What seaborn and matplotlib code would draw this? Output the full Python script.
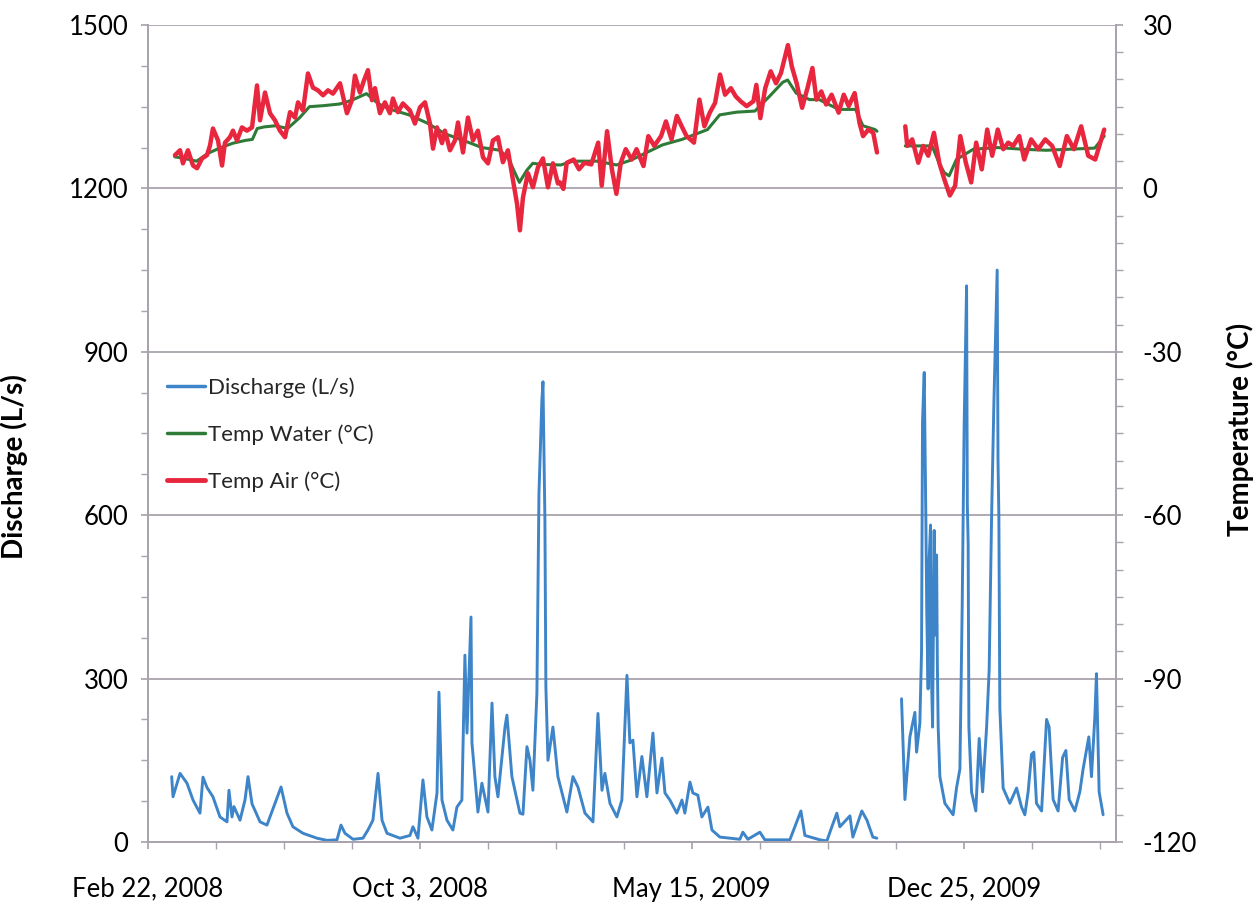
import numpy as np
import pandas as pd
import matplotlib
matplotlib.use("Agg")
import matplotlib.pyplot as plt
import seaborn as sns
from matplotlib.lines import Line2D
from matplotlib.ticker import MultipleLocator, FixedLocator

sns.set_theme(style="white")
plt.rcParams["font.family"] = ["Lato", "DejaVu Sans"]
plt.rcParams["axes.unicode_minus"] = False

# ---------------- data (x = days since Feb 22, 2008) ----------------
x_tick_days = [0, 224, 448, 672]
x_tick_labels = ["Feb 22, 2008", "Oct 3, 2008", "May 15, 2009", "Dec 25, 2009"]

discharge_day = [19.5, 20.6, 26.4, 32.1, 37.1, 42.8, 45.3, 48.6, 53.5, 59.3, 65.1, 66.7, 69.2, 70.8,
                 75.8, 79.9, 82.4, 85.7, 92.3, 98.0, 104.6, 109.6, 114.5, 119.4, 127.7, 139.2, 147.4,
                 155.7, 159.0, 162.3, 168.9, 177.1, 181.2, 185.3, 189.5, 192.8, 196.9, 207.6, 215.8,
                 218.3, 222.4, 226.5, 229.8, 233.9, 238.1, 239.7, 242.2, 246.3, 251.2, 254.5, 258.6,
                 261.1, 262.8, 266.1, 266.9, 271.8, 275.1, 280.1, 283.4, 285.8, 288.3, 294.1, 295.7,
                 299.8, 306.4, 308.9, 312.2, 314.7, 317.1, 320.4, 322.1, 324.5, 325.4, 327.0, 327.8,
                 329.5, 333.6, 337.7, 345.1, 350.1, 354.2, 360.0, 366.6, 370.7, 374.0, 376.4, 380.6,
                 386.3, 390.4, 394.6, 397.0, 399.5, 402.8, 406.9, 411.0, 416.0, 419.3, 423.4, 425.9,
                 430.0, 435.7, 439.9, 442.3, 446.5, 448.9, 453.0, 456.3, 461.3, 464.6, 471.2, 487.6,
                 490.1, 494.2, 504.1, 508.2, 528.8, 537.9, 541.2, 553.5, 559.3, 563.4, 567.5, 570.0,
                 578.3, 580.7, 588.1, 592.3, 597.2, 600.5,
                 610.0,
                 620.8, 623.6, 627.7, 631.8, 633.2, 635.9, 637.3, 638.1, 639.5, 640.9, 641.6, 642.7,
                 643.6, 644.7, 645.5, 646.4, 647.7, 648.6, 649.7, 650.3, 651.0, 652.4, 656.5, 663.3,
                 666.1, 668.9, 670.8, 672.4, 674.4, 675.0, 675.7, 676.3, 678.5, 682.0, 684.8, 687.6,
                 690.9, 693.0, 695.0, 696.9, 699.6, 700.3, 701.0, 701.8, 704.5, 710.0, 715.6, 719.7,
                 722.4, 725.1, 727.9, 729.8, 732.0, 736.2, 740.3, 742.4, 745.7, 749.8, 753.5, 756.2,
                 758.9, 763.6, 767.7, 770.4, 775.1, 777.3, 780.1, 781.4, 783.6, 786.9]
discharge_ls = [120, 83, 126, 108, 77, 53, 119, 100, 83, 46, 37, 95, 46, 65,
                40, 77, 120, 70, 37, 31, 71, 101, 53, 28, 16, 7, 3,
                4, 31, 16, 5, 7, 22, 40, 126, 40, 16, 7, 12,
                28, 7, 114, 46, 22, 90, 275, 77, 40, 22, 64, 77,
                343, 200, 413, 182, 55, 108, 55, 255, 120, 83, 211, 233,
                120, 53, 51, 175, 150, 95, 273, 640, 811, 845, 591, 285,
                150, 211, 120, 55, 120, 101, 53, 37, 236, 95, 126, 71,
                46, 77, 306, 182, 187, 83, 157, 83, 200, 90, 154, 90,
                77, 53, 77, 53, 110, 90, 86, 46, 64, 22, 9, 5,
                18, 5, 18, 4, 4, 57, 12, 4, 2, 28, 53, 28,
                48, 9, 57, 40, 9, 7,
                np.nan,
                263, 78, 193, 238, 165, 218, 351, 771, 862, 582, 420, 281,
                520, 582, 300, 211, 572, 380, 527, 330, 211, 120, 71, 50,
                99, 134, 435, 765, 1021, 620, 547, 211, 92, 57, 190, 92,
                211, 316, 597, 806, 1050, 700, 597, 246, 99, 71, 99, 64,
                50, 92, 161, 165, 71, 57, 225, 211, 78, 57, 155, 168,
                78, 57, 92, 134, 193, 120, 231, 309, 92, 50]

water_day = [22, 30, 40, 50, 60, 70, 80, 86, 90, 96, 105, 115, 125, 133, 145, 158, 168, 180,
             190, 200, 215, 230, 245, 260, 275, 290, 297, 302, 306, 312, 317, 325, 340, 350,
             370, 386, 398, 410, 424, 440, 461, 471, 485, 500, 512, 523, 527, 534, 545, 553,
             569, 583, 589, 599, 600.6,
             610,
             623.9, 646, 652, 656, 660, 666, 680, 700, 720, 740, 760, 780, 787.8]
water_c = [5.8, 5.5, 5.0, 6.5, 7.5, 8.3, 8.8, 9.0, 11.0, 11.3, 11.5, 11.0, 13.0, 15.0, 15.2,
           15.5, 16.2, 17.4, 15.5, 14.5, 13.5, 12.0, 10.0, 8.8, 7.5, 7.0, 5.5, 3.0, 1.1, 3.3,
           4.6, 4.4, 4.3, 5.0, 5.0, 4.3, 5.2, 6.5, 8.0, 9.0, 10.8, 13.5, 14.0, 14.2, 16.9,
           19.5, 19.9, 17.5, 16.3, 16.3, 14.5, 14.5, 11.5, 10.8, 10.5,
           np.nan,
           7.8, 7.8, 4.5, 2.9, 2.3, 5.3, 7.2, 7.5, 7.2, 7.0, 7.2, 7.4, 9.6]

air_day = [22.2, 26.4, 28.8, 32.9, 37.1, 40.4, 44.5, 48.6, 51.1, 53.5, 57.7, 61.0, 63.4, 67.5,
           70.0, 73.3, 77.4, 81.5, 85.7, 89.8, 92.3, 96.4, 100.5, 104.6, 108.7, 112.9, 117.0,
           121.1, 123.6, 127.7, 131.8, 135.9, 140.0, 144.2, 148.3, 152.4, 158.2, 163.9, 168.0,
           170.5, 174.6, 177.9, 181.2, 184.5, 187.0, 191.1, 195.2, 199.3, 201.8, 205.9, 210.0,
           215.8, 219.9, 224.1, 228.2, 232.3, 234.8, 238.1, 242.2, 244.6, 248.8, 252.9, 255.4,
           259.5, 263.6, 267.7, 271.8, 276.0, 280.1, 284.2, 288.3, 292.4, 296.5, 300.7, 304.0,
           306.4, 308.9, 313.0, 317.1, 321.3, 325.4, 329.5, 333.6, 337.7,
           339.4, 342.2, 345.0, 350.7, 355.1, 359.6, 365.2, 370.9, 373.8, 378.2, 382.2, 385.9,
           389.5, 393.6, 398.5, 402.5, 408.2, 412.2, 417.1, 422.7, 426.7, 431.3, 435.7, 439.7,
           443.7, 449.8, 454.3, 458.4, 462.8, 467.2, 471.3, 475.4, 480.2, 484.2, 488.2, 493.2,
           498.8, 501.2, 504.5, 508.5, 513.0, 517.4, 521.5, 527.2, 530.4, 534.4, 538.9, 543.3,
           547.4, 550.7, 554.7, 558.7, 563.2, 569.0, 573.2, 577.3, 582.2, 586.2, 589.1, 593.5,
           597.5, 600.6,
           610,
           623.9, 625.5, 629.6, 634.6, 638.7, 642.8, 647.5, 651.9, 656.0, 660.6, 665.0, 669.2,
           673.8, 678.2, 682.3, 686.9, 691.4, 695.5, 700.1, 704.6, 708.7, 712.8, 717.8, 721.9,
           727.6, 733.4, 739.2, 744.9, 751.1, 757.0, 762.8, 768.8, 774.6, 780.4, 787.8]
air_c = [6.1, 7.0, 4.6, 7.0, 4.2, 3.7, 5.5, 6.1, 7.9, 11.0, 8.8, 4.2, 8.4, 9.4,
         10.6, 8.8, 11.2, 10.6, 11.2, 18.9, 12.5, 17.6, 13.8, 12.5, 10.6, 9.4, 14.0,
         13.0, 15.8, 14.3, 21.1, 18.5, 18.0, 17.1, 18.0, 17.4, 19.3, 13.8, 16.2,
         20.7, 17.6, 19.8, 21.7, 16.2, 18.4, 13.8, 15.8, 13.8, 16.5, 14.0, 15.6,
         14.3, 11.9, 14.9, 15.8, 11.9, 7.3, 11.2, 8.3, 10.6, 7.0, 8.8, 12.1,
         6.6, 13.0, 8.8, 10.6, 5.7, 4.6, 8.8, 9.4, 4.8, 7.0, 1.5, -2.8,
         -7.7, -1.7, 2.8, 0.2, 3.9, 5.5, 0.2, 4.6, 0.9,
         1.1, -0.1, 4.7, 5.3, 3.5, 4.7, 4.4, 8.4, 0.5, 10.5, 3.5, -1.0,
         4.7, 7.2, 5.3, 7.2, 4.1, 9.6, 7.8, 9.6, 12.3, 9.0, 13.3, 11.4,
         9.6, 8.4, 16.3, 11.4, 13.9, 15.7, 20.9, 17.2, 18.4, 16.9, 16.0, 15.1,
         16.0, 19.0, 12.9, 18.4, 21.5, 19.3, 21.2, 26.3, 22.4, 19.3, 14.8, 18.4,
         22.1, 16.3, 17.8, 15.4, 17.2, 13.9, 17.2, 15.1, 17.5, 12.0, 9.6, 10.8,
         10.2, 6.6,
         np.nan,
         11.4, 7.8, 9.0, 4.7, 7.8, 6.0, 10.2, 4.7, 1.7, -1.3, 0.5, 9.6,
         4.7, 1.1, 8.4, 3.5, 10.8, 6.0, 10.8, 7.2, 8.4, 7.8, 9.6, 5.3,
         9.0, 7.2, 9.0, 7.8, 4.1, 9.6, 7.2, 11.4, 6.0, 5.3, 10.8]

series_names = ["Discharge (L/s)", "Temp Water (°C)", "Temp Air (°C)"]
series_colors = ["#3D85C8", "#2E7B38", "#E8263E"]


def to_frame(days, vals):
    df = pd.DataFrame({"day": days, "val": vals})
    df["seg"] = df["val"].isna().cumsum()
    return df.dropna()


q_df = to_frame(discharge_day, discharge_ls)
w_df = to_frame(water_day, water_c)
a_df = to_frame(air_day, air_c)

# ---------------- figure ----------------
fig = plt.figure(figsize=(12.56, 9.06), dpi=100)
ax = fig.add_axes([148 / 1256, 1 - 842 / 906, (1116 - 148) / 1256, (842 - 25) / 906])
ax2 = ax.twinx()

grid_c = "#A9A3AD"
ax.set_xlim(0, 797.5)
ax.set_ylim(0, 1500)
ax2.set_ylim(-120, 30)

ax.yaxis.set_major_locator(MultipleLocator(300))
ax.yaxis.set_minor_locator(MultipleLocator(75))
ax2.yaxis.set_major_locator(MultipleLocator(30))
ax2.yaxis.set_minor_locator(MultipleLocator(5))
ax.xaxis.set_major_locator(FixedLocator(x_tick_days))
ax.set_xticklabels(x_tick_labels)
ax.xaxis.set_minor_locator(MultipleLocator(56))

ax.grid(axis="y", which="major", color=grid_c, linewidth=1.3)
ax.set_axisbelow(True)

sns.lineplot(data=q_df, x="day", y="val", units="seg", estimator=None, sort=False,
             color=series_colors[0], linewidth=2.1, ax=ax, legend=False)
sns.lineplot(data=w_df, x="day", y="val", units="seg", estimator=None, sort=False,
             color=series_colors[1], linewidth=2.2, ax=ax2, legend=False)
sns.lineplot(data=a_df, x="day", y="val", units="seg", estimator=None, sort=False,
             color=series_colors[2], linewidth=3.2, ax=ax2, legend=False)

for a in (ax, ax2):
    for s in a.spines.values():
        s.set_color(grid_c)
        s.set_linewidth(1.3)
    a.spines["top"].set_visible(False)
    a.set_xlabel("")

ax.tick_params(axis="y", which="both", direction="out", length=5, color=grid_c,
               labelsize=18.5, pad=9, left=True, right=False, labelcolor="black")
ax2.tick_params(axis="y", which="both", direction="out", length=5, color=grid_c,
                labelsize=18.5, pad=14, right=True, left=False, labelcolor="black")
ax.tick_params(axis="x", which="both", direction="out", length=5, color=grid_c,
               labelsize=18.5, pad=20, bottom=True, labelcolor="black")

ax.set_ylabel("Discharge (L/s)", fontsize=20, fontweight="bold", color="black")
ax2.set_ylabel("Temperature (°C)", fontsize=20, fontweight="bold", color="black")
ax.yaxis.set_label_coords(-0.124, 0.46)
ax2.yaxis.set_label_coords(1.114, 0.505)

handles = [Line2D([0], [0], color=series_colors[0], lw=2.5),
           Line2D([0], [0], color=series_colors[1], lw=2.5),
           Line2D([0], [0], color=series_colors[2], lw=3.5)]
ax2.legend(handles, series_names, loc="upper left", bbox_to_anchor=(0.02, 0.569),
           frameon=False, fontsize=16, handlelength=1.7, handletextpad=0.15,
           labelspacing=1.19, borderaxespad=0, borderpad=0)

fig.savefig("out.png", dpi=100)
